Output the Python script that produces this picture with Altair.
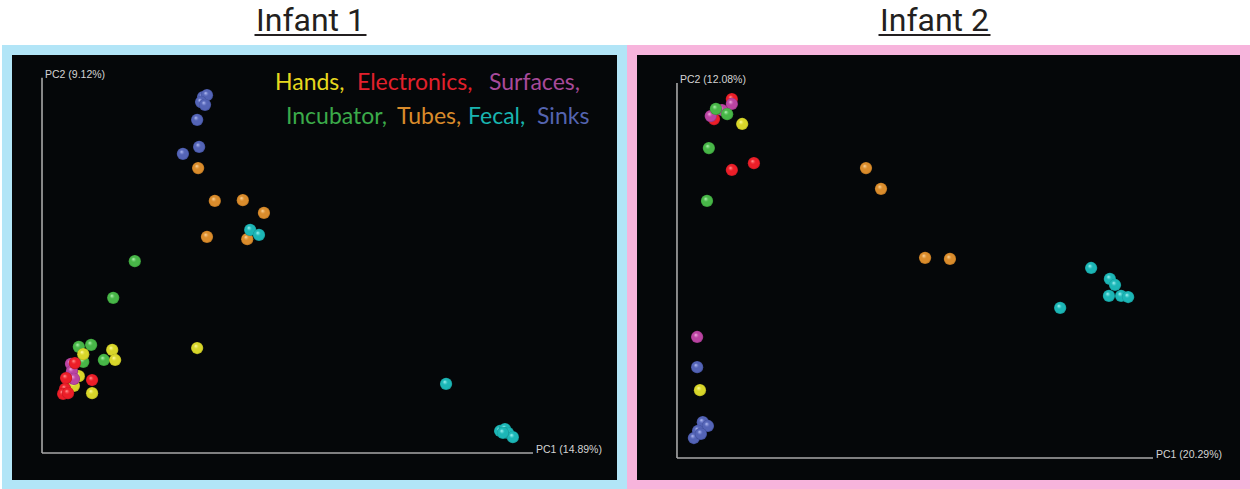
import altair as alt
import pandas as pd

# ---- sample groups --------------------------------------------------------
CATEGORIES = ["Hands", "Electronics", "Surfaces", "Incubator", "Tubes", "Fecal", "Sinks"]

# ---- Infant 1 PCoA coordinates (unit = full axis length) ------------------
inf1_group = (["Sinks"] * 7 + ["Tubes"] * 6 + ["Fecal"] * 8 + ["Incubator"] * 6
              + ["Hands"] * 7 + ["Surfaces"] * 3 + ["Electronics"] * 6)
inf1_pc1 = [0.328, 0.336, 0.324, 0.332, 0.316, 0.320, 0.287,
            0.318, 0.352, 0.409, 0.452, 0.336, 0.418,
            0.424, 0.442, 0.823, 0.933, 0.943, 0.949, 0.959, 0.939,
            0.189, 0.145, 0.075, 0.100, 0.126, 0.084,
            0.316, 0.143, 0.149, 0.084, 0.075, 0.065, 0.102,
            0.059, 0.061, 0.065,
            0.067, 0.049, 0.102, 0.047, 0.043, 0.053]
inf1_pc2 = [0.922, 0.927, 0.909, 0.902, 0.863, 0.793, 0.775,
            0.738, 0.653, 0.655, 0.622, 0.560, 0.554,
            0.578, 0.565, 0.179, 0.057, 0.062, 0.052, 0.041, 0.052,
            0.497, 0.402, 0.275, 0.280, 0.241, 0.236,
            0.272, 0.267, 0.241, 0.256, 0.199, 0.174, 0.155,
            0.231, 0.212, 0.192,
            0.233, 0.194, 0.189, 0.166, 0.153, 0.155]
inf1_axis_end = (1.0, 0.972)
inf1_axis_labels = ["PC1 (14.89%)", "PC2 (9.12%)"]

# ---- Infant 2 PCoA coordinates --------------------------------------------
inf2_group = (["Sinks"] * 6 + ["Tubes"] * 4 + ["Fecal"] * 7 + ["Electronics"] * 4
              + ["Surfaces"] * 4 + ["Hands"] * 2 + ["Incubator"] * 4)
inf2_pc1 = [0.043, 0.055, 0.066, 0.045, 0.036, 0.051,
            0.403, 0.435, 0.529, 0.582,
            0.883, 0.923, 0.934, 0.921, 0.947, 0.962, 0.817,
            0.117, 0.079, 0.164, 0.117,
            0.117, 0.096, 0.072, 0.043,
            0.139, 0.049,
            0.083, 0.107, 0.068, 0.064]
inf2_pc2 = [0.241, 0.095, 0.085, 0.072, 0.053, 0.064,
            0.769, 0.714, 0.531, 0.528,
            0.504, 0.475, 0.459, 0.430, 0.430, 0.427, 0.398,
            0.952, 0.899, 0.782, 0.764,
            0.939, 0.923, 0.907, 0.321,
            0.886, 0.180,
            0.926, 0.912, 0.822, 0.682]
inf2_axis_end = (1.015, 0.995)
inf2_axis_labels = ["PC1 (20.29%)", "PC2 (12.08%)"]

# ---- styling ----------------------------------------------------------------
# (highlight, body, shadow) for each sphere colour
SPHERE = {
    "Hands": ("#F6F47C", "#D8D62A", "#ABA91C"),
    "Electronics": ("#FF7070", "#EC1E28", "#B81520"),
    "Surfaces": ("#E490D0", "#BA44A2", "#92307E"),
    "Incubator": ("#94E694", "#48B648", "#339333"),
    "Tubes": ("#F6C27A", "#DA8C2C", "#AE6C1C"),
    "Fecal": ("#7AE6E6", "#1CB6B6", "#138F8F"),
    "Sinks": ("#96A2E6", "#5464B6", "#3C4A94"),
}
TEXT_COLOR = {
    "Hands": "#E6D81E", "Electronics": "#E2202C", "Surfaces": "#A84A9A",
    "Incubator": "#3BAA4A", "Tubes": "#D98B2B", "Fecal": "#19B5B0", "Sinks": "#5464B0",
}
PANEL_W1, PANEL_W2, PANEL_H = 615, 613, 435
INK = "#231F20"
AXIS_GREY = "#A8A8A8"


def sphere_fill(cat):
    hi, body, shade = SPHERE[cat]
    return alt.RadialGradient(
        gradient="radial",
        stops=[
            alt.GradientStop(offset=0.0, color="#FFFFFF"),
            alt.GradientStop(offset=0.12, color=hi),
            alt.GradientStop(offset=0.4, color=body),
            alt.GradientStop(offset=0.85, color=body),
            alt.GradientStop(offset=1.0, color=shade),
        ],
        x1=0.37, y1=0.3, r1=0, x2=0.5, y2=0.5, r2=0.5,
    )


def panel(groups, pc1, pc2, axis_end, axis_labels, order, x_dom, y_dom,
          width, border, title, legend=None):
    xs = alt.Scale(domain=x_dom, nice=False, zero=False)
    ys = alt.Scale(domain=y_dom, nice=False, zero=False)
    pts = pd.DataFrame({"group": groups, "pc1": pc1, "pc2": pc2})

    layers = []
    # axis lines drawn from the ordination origin
    axes_df = pd.DataFrame({"x": [0, 0], "y": [0, 0],
                            "x2": [axis_end[0], 0], "y2": [0, axis_end[1]]})
    layers.append(
        alt.Chart(axes_df).mark_rule(color=AXIS_GREY, strokeWidth=1.6).encode(
            x=alt.X("x:Q", scale=xs, axis=None),
            y=alt.Y("y:Q", scale=ys, axis=None),
            x2="x2:Q", y2="y2:Q",
        )
    )
    lab_df = pd.DataFrame({"x": [axis_end[0], 0], "y": [0, axis_end[1]],
                           "label": axis_labels})
    layers.append(
        alt.Chart(lab_df).mark_text(
            align="left", baseline="alphabetic", dx=3, dy=0,
            font="Liberation Sans", fontSize=10.5, color="#D4D4D4",
        ).encode(
            x=alt.X("x:Q", scale=xs, axis=None),
            y=alt.Y("y:Q", scale=ys, axis=None),
            text="label:N",
        )
    )
    for cat in order:
        layers.append(
            alt.Chart(pts).transform_filter(alt.datum.group == cat).mark_circle(
                size=150, opacity=1, fill=sphere_fill(cat), strokeWidth=0,
            ).encode(
                x=alt.X("pc1:Q", scale=xs, axis=None),
                y=alt.Y("pc2:Q", scale=ys, axis=None),
            )
        )

    # panel heading with underline
    cx = width / 2 - 4
    layers.append(
        alt.Chart(pd.DataFrame({"t": [title]})).mark_text(
            align="center", baseline="alphabetic", font="Roboto",
            fontSize=32, color=INK,
        ).encode(x=alt.value(cx), y=alt.value(-19), text="t:N")
    )
    layers.append(
        alt.Chart(pd.DataFrame({"t": [title]})).mark_rule(
            color=INK, strokeWidth=2
        ).encode(x=alt.value(cx - 56), x2=alt.value(cx + 56), y=alt.value(-15))
    )

    if legend:
        for word, cat, px, py in legend:
            layers.append(
                alt.Chart(pd.DataFrame({"t": [word]})).mark_text(
                    align="left", baseline="alphabetic", font="Lato",
                    fontSize=23, color=TEXT_COLOR[cat],
                ).encode(x=alt.value(px), y=alt.value(py), text="t:N")
            )

    return alt.layer(*layers).properties(
        width=width, height=PANEL_H,
        view=alt.ViewBackground(fill="#050709", stroke=border, strokeWidth=10),
    )


# colour key words: (text, group, x, baseline y) in panel pixels
legend_words = [
    ("Hands,", "Hands", 268, 40),
    ("Electronics,", "Electronics", 350, 40),
    ("Surfaces,", "Surfaces", 482, 40),
    ("Incubator,", "Incubator", 279, 74),
    ("Tubes,", "Tubes", 390, 74),
    ("Fecal,", "Fecal", 461, 74),
    ("Sinks", "Sinks", 530, 74),
]

left = panel(
    inf1_group, inf1_pc1, inf1_pc2, inf1_axis_end, inf1_axis_labels,
    ["Sinks", "Tubes", "Fecal", "Incubator", "Hands", "Surfaces", "Electronics"],
    [-0.0713, 1.1813], [-0.0829, 1.0440], PANEL_W1, "#B2E5F7", "Infant 1",
    legend=legend_words,
)
right = panel(
    inf2_group, inf2_pc1, inf2_pc2, inf2_axis_end, inf2_axis_labels,
    ["Sinks", "Tubes", "Fecal", "Electronics", "Surfaces", "Hands", "Incubator"],
    [-0.0959, 1.2111], [-0.0716, 1.0822], PANEL_W2, "#F7B4DC", "Infant 2",
)

chart = alt.hconcat(left, right, spacing=0).resolve_scale(
    x="independent", y="independent"
).properties(
    padding={"left": 2, "top": 0, "right": 0, "bottom": 0},
    background="white",
)

chart.save("out.html", embed_options={"renderer": "svg", "actions": False})
